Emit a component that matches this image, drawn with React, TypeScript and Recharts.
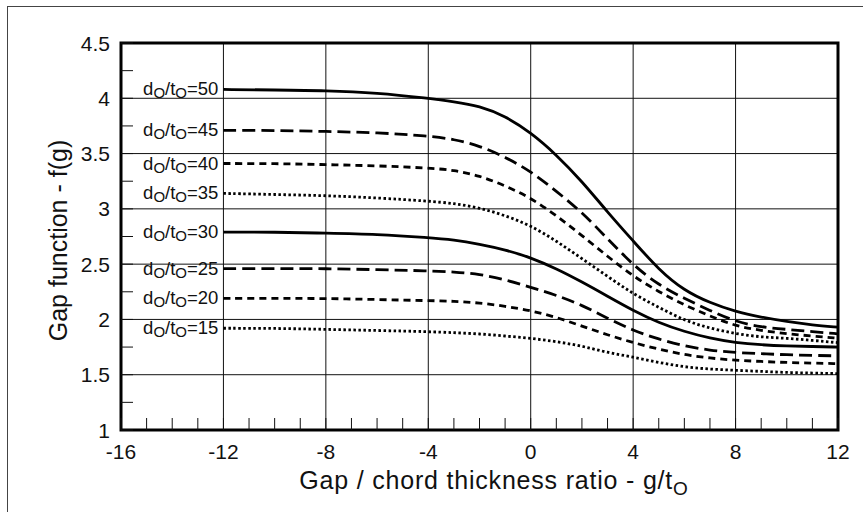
import React from 'react';
import { LineChart, Line, XAxis, YAxis, CartesianGrid, ReferenceArea, Label } from 'recharts';

const gapRatio = [-12, -10, -8, -6, -4, -3, -2, -1, 0, 1, 2, 3, 4, 5, 6, 7, 8, 9, 10, 11, 12];

const f50 = [4.08, 4.075, 4.07, 4.05, 4.0, 3.97, 3.93, 3.84, 3.69, 3.49, 3.25, 2.97, 2.71, 2.45, 2.26, 2.15, 2.07, 2.02, 1.98, 1.95, 1.93];
const f45 = [3.71, 3.71, 3.70, 3.69, 3.66, 3.63, 3.57, 3.47, 3.34, 3.16, 2.97, 2.73, 2.49, 2.31, 2.19, 2.08, 1.98, 1.93, 1.91, 1.89, 1.87];
const f40 = [3.41, 3.41, 3.40, 3.39, 3.37, 3.35, 3.30, 3.21, 3.10, 2.94, 2.76, 2.57, 2.39, 2.25, 2.13, 2.03, 1.94, 1.90, 1.87, 1.85, 1.83];
const f35 = [3.14, 3.13, 3.12, 3.10, 3.07, 3.05, 3.01, 2.94, 2.85, 2.71, 2.55, 2.39, 2.23, 2.11, 1.99, 1.92, 1.87, 1.84, 1.83, 1.81, 1.79];
const f30 = [2.79, 2.79, 2.78, 2.77, 2.74, 2.72, 2.68, 2.63, 2.56, 2.46, 2.34, 2.21, 2.08, 1.97, 1.89, 1.83, 1.79, 1.77, 1.76, 1.755, 1.75];
const f25 = [2.46, 2.46, 2.46, 2.45, 2.44, 2.43, 2.41, 2.36, 2.29, 2.22, 2.13, 2.01, 1.90, 1.82, 1.76, 1.72, 1.70, 1.69, 1.68, 1.675, 1.67];
const f20 = [2.19, 2.19, 2.19, 2.18, 2.17, 2.165, 2.15, 2.12, 2.08, 2.02, 1.94, 1.86, 1.79, 1.73, 1.68, 1.65, 1.63, 1.62, 1.61, 1.605, 1.60];
const f15 = [1.92, 1.92, 1.91, 1.90, 1.89, 1.88, 1.87, 1.85, 1.83, 1.80, 1.76, 1.70, 1.66, 1.61, 1.57, 1.55, 1.54, 1.53, 1.52, 1.515, 1.51];

const ratios = ['50', '45', '40', '35', '30', '25', '20', '15'];
const seriesValues = [f50, f45, f40, f35, f30, f25, f20, f15];

const xTicks = [-16, -15, -14, -13, -12, -11, -10, -9, -8, -7, -6, -5, -4, -3, -2, -1, 0, 1, 2, 3, 4, 5, 6, 7, 8, 9, 10, 11, 12];
const xMajor = [-16, -12, -8, -4, 0, 4, 8, 12];
const yTicks = [1, 1.25, 1.5, 1.75, 2, 2.25, 2.5, 2.75, 3, 3.25, 3.5, 3.75, 4, 4.25, 4.5];
const yMajor = [1, 1.5, 2, 2.5, 3, 3.5, 4, 4.5];
const xGrid = [-12, -8, -4, 0, 4, 8];
const yGrid = [1.5, 2, 2.5, 3, 3.5, 4];

const dashStyles = ['', '13 6', '7 5', '2.5 2.5'];

const FONT = '"Liberation Sans", Arial, sans-serif';

const data = gapRatio.map((g, i) => {
  const row: Record<string, number> = { g };
  ratios.forEach((r, k) => {
    row['r' + r] = seriesValues[k][i];
  });
  return row;
});

const XTick = (props: any) => {
  const { x, y, payload } = props;
  if (!xMajor.includes(payload.value)) return <g />;
  return (
    <text x={x} y={y} dy="0.71em" textAnchor="middle" fontSize={21} fontFamily={FONT} fill="#111">
      {String(payload.value)}
    </text>
  );
};

const YTick = (props: any) => {
  const { x, y, payload } = props;
  if (!yMajor.includes(payload.value)) return <g />;
  return (
    <text x={x} y={y} dy="0.36em" textAnchor="end" fontSize={21} fontFamily={FONT} fill="#111">
      {String(payload.value)}
    </text>
  );
};

const makeLabel = (ratio: string) => (props: any) => {
  const { x, y, index } = props;
  if (index !== 0) return null;
  return (
    <text x={x - 5} y={y + 6} textAnchor="end" fontSize={18.5} fontFamily={FONT} fill="#111">
      <tspan>d</tspan>
      <tspan fontSize={15} dy={3}>O</tspan>
      <tspan dy={-3}>/t</tspan>
      <tspan fontSize={15} dy={3}>O</tspan>
      <tspan dy={-3}>{'=' + ratio}</tspan>
    </text>
  );
};

export default function App() {
  return (
    <div style={{ margin: -8, width: 863, height: 512, background: '#fff', overflow: 'hidden' }}>
      <div
        style={{
          position: 'fixed',
          left: 7,
          top: 6,
          width: 900,
          height: 600,
          borderTop: '1px solid #444',
          borderLeft: '1px solid #444',
          pointerEvents: 'none',
          zIndex: 1000,
        }}
      />
      <LineChart
        width={863}
        height={512}
        data={data}
        margin={{ top: 43, right: 25, bottom: 0, left: 0 }}
      >
        <CartesianGrid
          stroke="#111"
          strokeWidth={1}
          horizontalValues={yGrid}
          verticalValues={xGrid}
        />
        <XAxis
          dataKey="g"
          type="number"
          domain={[-16, 12]}
          ticks={xTicks}
          interval={0}
          allowDataOverflow
          height={82}
          axisLine={false}
          tickSize={-12}
          tickMargin={26}
          tickLine={{ stroke: '#111', strokeWidth: 1 }}
          tick={XTick}
        >
          <Label
            content={(p: any) => {
              const vb = p.viewBox;
              return (
                <text x={494} y={vb.y + 59} textAnchor="middle" fontSize={25} letterSpacing={0.8} fontFamily={FONT} fill="#111">
                  <tspan>Gap / chord thickness ratio - g/t</tspan>
                  <tspan fontSize={19} dy={6}>O</tspan>
                </text>
              );
            }}
          />
        </XAxis>
        <YAxis
          type="number"
          domain={[1, 4.5]}
          ticks={yTicks}
          interval={0}
          allowDataOverflow
          width={121}
          axisLine={false}
          tickSize={-12}
          tickMargin={23}
          tickLine={{ stroke: '#111', strokeWidth: 1 }}
          tick={YTick}
        >
          <Label
            content={(p: any) => {
              const vb = p.viewBox;
              const cx = 58;
              const cy = vb.y + vb.height / 2 + 4;
              return (
                <text
                  x={cx}
                  y={cy}
                  textAnchor="middle"
                  dominantBaseline="central"
                  fontSize={25}
                  fontFamily={FONT}
                  fill="#111"
                  transform={`rotate(-90 ${cx} ${cy})`}
                >
                  Gap function - f(g)
                </text>
              );
            }}
          />
        </YAxis>
        <ReferenceArea
          x1={-16}
          x2={12}
          y1={1}
          y2={4.5}
          fill="none"
          fillOpacity={0}
          stroke="#000"
          strokeWidth={3}
          ifOverflow="visible"
        />
        {ratios.map((r, k) => (
          <Line
            key={r}
            dataKey={'r' + r}
            type="basis"
            stroke="#000"
            strokeWidth={2.8}
            strokeDasharray={dashStyles[k % 4] || undefined}
            dot={false}
            activeDot={false}
            isAnimationActive={false}
            label={makeLabel(r)}
          />
        ))}
      </LineChart>
    </div>
  );
}
